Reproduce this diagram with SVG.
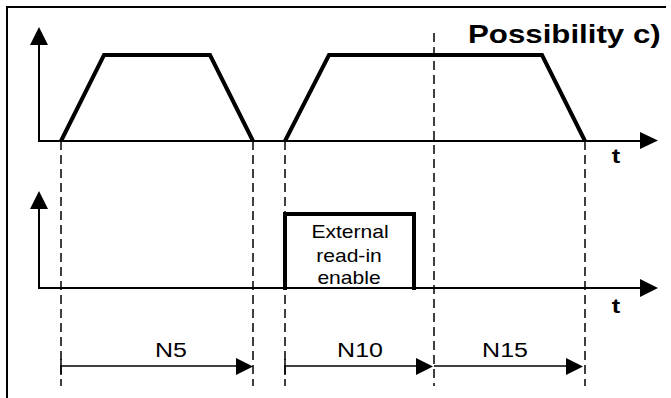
<svg xmlns="http://www.w3.org/2000/svg" width="671" height="398" viewBox="0 0 671 398">
<style>
.ax{stroke:#000;stroke-width:2;fill:none}
.sig{stroke:#000;stroke-width:4;fill:none;stroke-linejoin:miter}
.dash{stroke:#000;stroke-width:1.5;stroke-dasharray:9,5;fill:none}
.dim{stroke:#000;stroke-width:1.5;fill:none}
.ah{fill:#000}
.lbl{font-family:"Liberation Sans",Arial,sans-serif;fill:#000}
.b{font-weight:bold}
</style>
<rect width="671" height="398" fill="#fff"/>
<g id="frame">
<line class="ax" x1="7" y1="7" x2="666" y2="7"/>
<line class="ax" x1="7" y1="6" x2="7" y2="398"/>
</g>
<g id="title"><text class="lbl b" transform="translate(468,43) scale(1.25,1)" font-size="25">Possibility c)</text></g>
<g id="connectors">
<line class="dash" x1="61" y1="141" x2="61" y2="386"/>
<line class="dash" x1="253" y1="141" x2="253" y2="386"/>
<line class="dash" x1="285" y1="141" x2="285" y2="386"/>
<line class="dash" x1="434" y1="33" x2="434" y2="386"/>
<line class="dash" x1="585" y1="141" x2="585" y2="386"/>
</g>
<g id="top-axes">
<polyline class="ax" points="39,42 39,141 642,141"/>
<polygon class="ah" points="30,45 48,45 39,27"/>
<polygon class="ah" points="640,132 640,149 658,140.5"/>
<text class="lbl b" transform="translate(616,163) scale(1.2,1)" font-size="21" text-anchor="middle">t</text>
</g>
<g id="top-signal">
<polyline class="sig" points="61,141 104,55 210,55 253,141"/>
<polyline class="sig" points="285,141 329,55 542,55 585,141"/>
</g>
<g id="bottom-axes">
<polyline class="ax" points="39,206 39,288 642,288"/>
<polygon class="ah" points="30,209 48,209 39,191"/>
<polygon class="ah" points="640,279 640,297 658,288"/>
<text class="lbl b" transform="translate(616,313) scale(1.2,1)" font-size="21" text-anchor="middle">t</text>
</g>
<g id="pulse">
<polyline class="sig" points="285,290 285,214 414,214 414,290"/>
<text class="lbl" transform="translate(350,238) scale(1.17,1)" font-size="18" text-anchor="middle">External</text>
<text class="lbl" transform="translate(349,262) scale(1.17,1)" font-size="18" text-anchor="middle">read-in</text>
<text class="lbl" transform="translate(349,284) scale(1.17,1)" font-size="18" text-anchor="middle">enable</text>
</g>
<g id="N5">
<line class="dim" x1="61" y1="359" x2="61" y2="375"/>
<line class="dim" x1="61" y1="366" x2="238" y2="366"/>
<polygon class="ah" points="236,358 236,375 253,366.5"/>
<text class="lbl" transform="translate(171,357) scale(1.25,1)" font-size="20" text-anchor="middle">N5</text>
</g>
<g id="N10">
<line class="dim" x1="285" y1="359" x2="285" y2="375"/>
<line class="dim" x1="285" y1="366" x2="418" y2="366"/>
<polygon class="ah" points="416,358 416,375 433,366.5"/>
<text class="lbl" transform="translate(360,357) scale(1.25,1)" font-size="20" text-anchor="middle">N10</text>
</g>
<g id="N15">
<line class="dim" x1="434" y1="366" x2="568" y2="366"/>
<polygon class="ah" points="566,358 566,375 583,366.5"/>
<text class="lbl" transform="translate(505,357) scale(1.25,1)" font-size="20" text-anchor="middle">N15</text>
</g>
</svg>
